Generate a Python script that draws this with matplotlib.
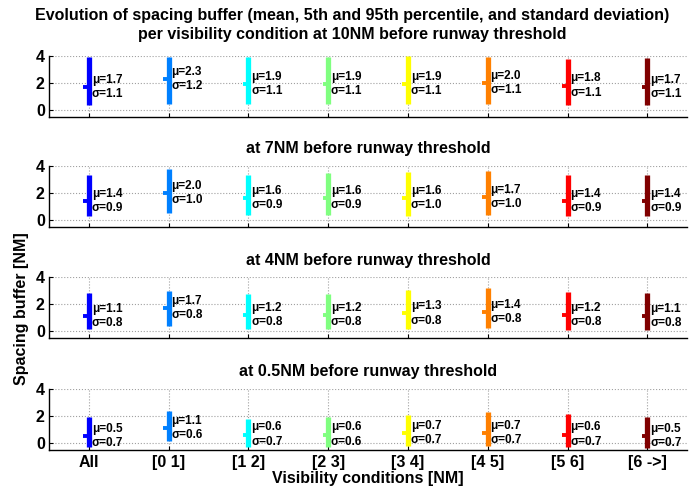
import numpy as np
import matplotlib
matplotlib.use('Agg')
import matplotlib.pyplot as plt

plt.rcParams['font.family'] = ['Liberation Sans', 'DejaVu Sans']
plt.rcParams['font.weight'] = 'bold'

categories = ['All', '[0 1]', '[1 2]', '[2 3]', '[3 4]', '[4 5]', '[5 6]', '[6 ->]']
colors = ['#0000ff', '#0080ff', '#00ffff', '#80ff80', '#ffff00', '#ff8000', '#ff0000', '#800000']
panel_titles = ['', 'at 7NM before runway threshold', 'at 4NM before runway threshold',
                'at 0.5NM before runway threshold']

# mean, standard deviation, 5th and 95th percentile per distance (10, 7, 4, 0.5 NM)
mean_10 = [1.7, 2.3, 1.9, 1.9, 1.9, 2.0, 1.8, 1.7]
std_10 = [1.1, 1.2, 1.1, 1.1, 1.1, 1.1, 1.1, 1.1]
p05_10 = [0.38, 0.46, 0.40, 0.40, 0.46, 0.40, 0.38, 0.38]
p95_10 = [3.90, 3.97, 3.95, 3.97, 4.00, 3.95, 3.78, 3.85]

mean_7 = [1.4, 2.0, 1.6, 1.6, 1.6, 1.7, 1.4, 1.4]
std_7 = [0.9, 1.0, 0.9, 0.9, 1.0, 1.0, 0.9, 0.9]
p05_7 = [0.25, 0.47, 0.37, 0.37, 0.30, 0.35, 0.25, 0.25]
p95_7 = [3.33, 3.80, 3.31, 3.46, 3.56, 3.60, 3.31, 3.31]

mean_4 = [1.1, 1.7, 1.2, 1.2, 1.3, 1.4, 1.2, 1.1]
std_4 = [0.8, 0.8, 0.8, 0.8, 0.8, 0.8, 0.8, 0.8]
p05_4 = [0.12, 0.37, 0.17, 0.17, 0.17, 0.22, 0.07, 0.07]
p95_4 = [2.83, 3.00, 2.75, 2.75, 3.02, 3.17, 2.92, 2.83]

mean_05 = [0.5, 1.1, 0.6, 0.6, 0.7, 0.7, 0.6, 0.5]
std_05 = [0.7, 0.6, 0.7, 0.6, 0.7, 0.7, 0.7, 0.7]
p05_05 = [-0.35, 0.12, -0.35, -0.30, -0.25, -0.25, -0.30, -0.37]
p95_05 = [1.90, 2.32, 1.75, 1.90, 2.07, 2.25, 2.12, 1.87]

panels = [
    (mean_10, std_10, p05_10, p95_10),
    (mean_7, std_7, p05_7, p95_7),
    (mean_4, std_4, p05_4, p95_4),
    (mean_05, std_05, p05_05, p95_05),
]

fig = plt.figure(figsize=(6.99, 4.88), dpi=100)
bottoms = [0.760, 0.535, 0.307, 0.078]
x = np.arange(1, len(categories) + 1)

for k, (means, stds, lo, hi) in enumerate(panels):
    ax = fig.add_axes([0.0701, bottoms[k], 0.913, 0.125])
    # 5th-95th percentile span and mean tick
    ax.vlines(x, lo, hi, colors=colors, linewidth=3.8, zorder=3)
    ax.hlines(means, x - 0.07, x + 0.03, colors=colors, linewidth=2.8, zorder=4)
    for i in range(len(x)):
        ax.text(x[i] + 0.035, means[i], 'μ=%.1f\nσ=%.1f' % (means[i], stds[i]),
                ha='left', va='center', fontsize=8.5, fontweight='bold',
                linespacing=1.25, zorder=5)
    ax.set_xlim(0.5, 8.5)
    ax.set_ylim(-0.55, 4)
    ax.set_yticks([0, 2, 4])
    ax.set_xticks(x)
    if k == 3:
        ax.set_xticklabels(categories, fontsize=11.5, fontweight='bold')
    else:
        ax.set_xticklabels([])
    ax.tick_params(axis='both', direction='in', length=3, width=0.8, labelsize=11.5)
    ax.tick_params(axis='x', pad=4)
    ax.tick_params(axis='y', pad=3)
    ax.grid(True, linestyle=':', color='#a0a0a0', linewidth=0.8)
    ax.set_axisbelow(True)
    for side in ['top', 'right']:
        ax.spines[side].set_visible(False)
    for side in ['left', 'bottom']:
        ax.spines[side].set_linewidth(1.0)
    if panel_titles[k]:
        ax.set_title(panel_titles[k], fontsize=11.5, fontweight='bold', pad=9)

fig.text(352 / 699, 1 - 25 / 488,
         'Evolution of spacing buffer (mean, 5th and 95th percentile, and standard deviation)\n'
         'per visibility condition at 10NM before runway threshold',
         ha='center', va='center', fontsize=11.5, fontweight='bold', linespacing=1.35)
fig.text(368 / 699, 1 - 479 / 488, 'Visibility conditions [NM]',
         ha='center', va='center', fontsize=11.5, fontweight='bold')
fig.text(22 / 699, 1 - 309 / 488, 'Spacing buffer [NM]', rotation=90,
         ha='center', va='center', fontsize=11.5, fontweight='bold')

fig.savefig('out.png', dpi=100)
